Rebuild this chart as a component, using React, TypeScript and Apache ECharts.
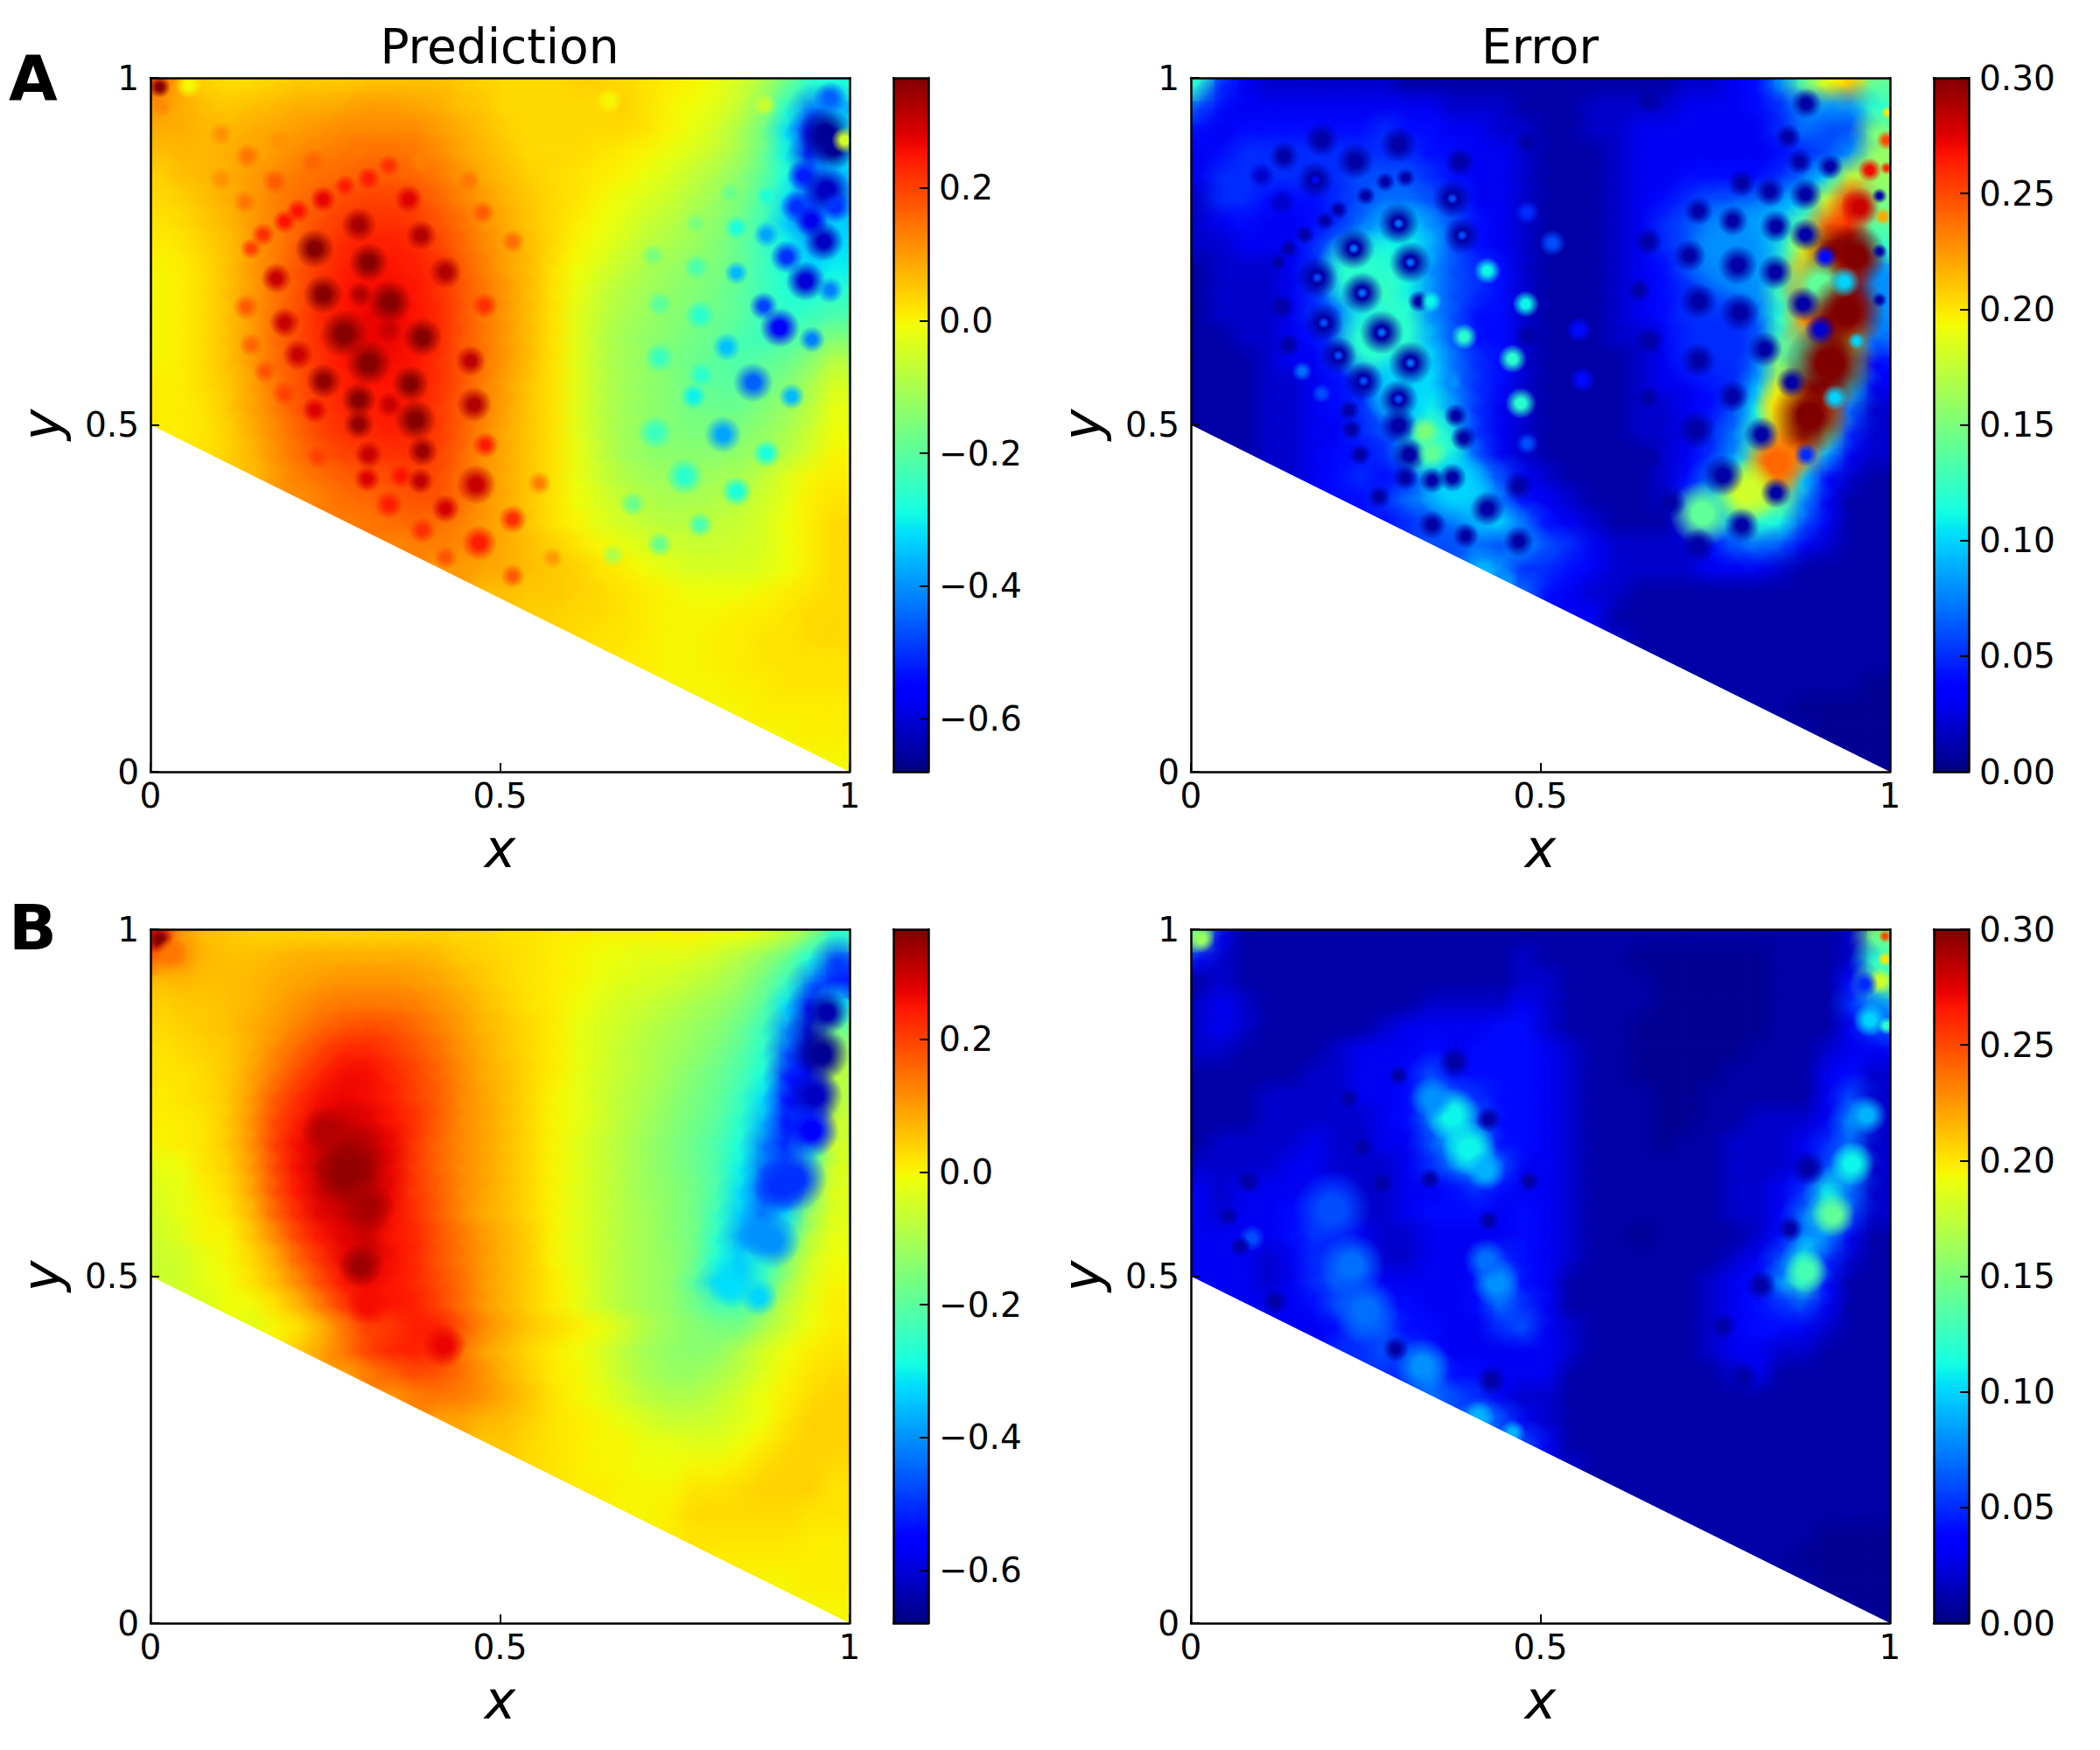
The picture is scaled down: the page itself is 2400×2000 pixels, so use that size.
import React, { useEffect, useRef } from "react";
import * as echarts from "echarts";

const predictionA = [
[15,8,4,3,3,4,5,5,5,6,6,6,6,5,4,3,3,3,4,4,3,2,1,0,-2,-5,-10,-18,-26,-28],
[10,8,6,5,6,7,8,8,9,10,10,9,8,6,5,3,3,3,3,3,4,2,0,-1,-3,-7,-14,-26,-42,-38],
[8,8,7,7,8,9,10,11,12,12,12,12,10,8,6,4,3,3,3,3,3,2,0,-2,-5,-10,-17,-32,-56,-30],
[6,7,7,8,9,10,12,13,14,15,15,14,12,9,7,5,3,3,3,2,1,0,-2,-4,-7,-11,-18,-30,-58,-32],
[4,6,7,8,10,12,14,15,16,17,17,16,14,11,8,6,4,3,2,1,0,-2,-4,-7,-10,-14,-20,-28,-42,-36],
[3,4,6,8,10,13,15,17,19,20,20,19,16,13,10,7,5,3,2,0,-2,-4,-6,-9,-12,-16,-22,-32,-48,-38],
[2,3,5,7,10,13,16,19,21,22,22,21,18,15,11,8,5,3,1,-1,-3,-6,-8,-11,-14,-18,-24,-34,-46,-34],
[1,2,4,6,10,13,17,20,23,24,24,23,20,16,12,9,6,3,0,-2,-5,-8,-10,-12,-15,-19,-24,-30,-36,-32],
[0,1,3,6,10,14,18,21,24,25,25,24,22,17,13,9,6,2,-1,-4,-7,-10,-12,-14,-16,-19,-24,-28,-34,-30],
[0,1,3,6,10,14,18,22,25,26,26,25,22,18,14,10,6,2,-2,-6,-9,-11,-13,-15,-17,-20,-24,-27,-28,-26],
[0,1,3,6,10,15,19,23,25,27,27,25,23,18,14,10,6,2,-3,-7,-10,-12,-14,-16,-18,-20,-24,-26,-24,-22],
[0,1,3,6,10,15,19,23,25,27,27,25,23,18,14,10,6,2,-3,-8,-11,-13,-15,-17,-19,-22,-24,-22,-20,-15],
[0,1,3,6,10,15,19,22,25,26,26,25,22,18,14,10,6,2,-3,-8,-11,-13,-16,-18,-20,-22,-20,-18,-14,-8],
[1,1,3,5,9,14,18,22,24,25,25,24,22,18,13,9,5,2,-3,-8,-11,-13,-15,-18,-20,-20,-18,-15,-10,-4],
[1,1,2,5,9,13,18,21,23,24,25,24,21,17,13,9,5,2,-3,-8,-11,-13,-15,-17,-18,-18,-15,-12,-8,-2],
[1,1,2,4,8,12,16,20,22,23,24,23,21,17,12,8,5,2,-3,-8,-11,-13,-15,-16,-16,-15,-13,-10,-6,-1],
[2,4,7,11,15,18,20,21,22,22,20,16,11,8,5,2,-2,-7,-11,-13,-14,-14,-14,-13,-11,-8,-4,0],
[6,10,13,15,17,18,19,20,19,15,11,8,5,2,-2,-6,-9,-11,-12,-12,-11,-10,-7,-3,0,1],
[11,13,15,16,17,18,18,15,11,8,5,2,-1,-4,-7,-9,-10,-10,-9,-8,-5,-2,1,2],
[13,14,15,16,15,13,10,8,5,2,0,-3,-5,-7,-8,-8,-7,-6,-4,-1,1,3],
[12,13,13,12,10,8,6,4,2,0,-2,-4,-5,-6,-6,-5,-4,-1,1,3],
[10,10,9,8,6,5,4,2,1,-1,-3,-4,-4,-4,-3,-1,1,3],
[6,6,5,5,4,3,2,1,0,-1,-1,-1,0,1,2,3],
[4,4,3,3,2,1,0,0,0,1,1,2,3,3],
[3,2,2,1,0,0,1,1,2,2,3,3],
[1,1,0,0,1,1,2,2,2,2],
[0,0,0,1,1,2,2,2],
[0,0,1,1,1,1],
[0,0,1,1],
[0,0],
];

const errorA = [
[12,5,3,2,2,2,2,2,2,1,1,1,1,1,1,1,1,1,1,1,1,2,2,3,4,8,14,19,21,14],
[6,4,3,3,3,3,3,3,3,3,3,2,2,2,1,1,1,2,2,2,2,3,3,3,4,5,8,8,8,12],
[4,3,4,4,4,4,4,4,5,4,4,3,3,2,2,1,1,2,2,3,3,3,3,3,3,5,7,6,6,15],
[3,4,5,5,5,5,5,5,5,5,4,4,3,3,2,1,1,1,2,3,3,3,3,3,3,4,5,6,8,16],
[3,5,5,5,5,5,5,6,6,6,5,4,3,3,2,1,1,1,2,3,3,4,4,4,4,5,7,10,18,16],
[2,5,5,4,4,4,5,6,7,7,6,5,3,3,2,1,1,1,2,3,4,5,6,6,7,8,10,18,26,15],
[2,3,4,3,3,4,5,7,9,10,8,6,4,3,2,1,1,1,2,3,5,6,7,8,9,10,14,24,26,14],
[2,2,3,3,3,5,7,9,11,11,9,6,4,3,2,1,1,1,2,3,5,6,8,8,10,12,18,30,30,12],
[1,2,2,2,3,5,8,11,12,11,8,6,5,4,2,1,1,1,2,3,4,6,7,8,9,13,22,30,26,8],
[1,2,2,2,3,5,8,11,13,11,8,6,5,4,2,1,1,1,2,3,4,5,6,7,8,13,24,30,30,8],
[1,2,2,2,3,5,7,10,12,12,8,6,4,4,2,1,1,1,2,3,4,5,6,6,7,12,22,30,26,8],
[1,1,2,2,3,4,6,9,12,12,9,6,4,4,2,1,1,1,2,2,3,4,5,5,7,13,24,30,18,7],
[1,1,1,2,3,3,5,7,10,12,10,7,5,4,2,1,1,1,1,2,3,4,4,5,8,16,30,30,14,4],
[1,1,1,2,2,3,4,5,8,11,10,7,5,4,2,1,1,1,1,2,3,3,4,5,9,18,30,30,11,3],
[1,1,1,2,2,3,4,5,7,10,11,8,5,3,2,1,1,1,1,2,2,3,4,6,11,20,30,24,7,2],
[1,1,1,2,2,3,3,5,6,8,12,9,5,3,2,1,1,1,1,2,2,3,5,7,12,22,30,15,5,2],
[1,2,2,3,4,4,5,8,13,10,6,3,2,1,1,1,1,1,2,3,5,8,14,22,23,9,3,2],
[2,3,4,5,4,5,8,10,8,6,3,2,1,1,1,1,2,4,7,11,18,22,10,4,2,1],
[4,4,5,7,8,8,10,7,4,3,2,1,1,1,2,5,9,14,17,15,8,3,1,1],
[4,5,6,7,9,10,7,4,3,2,1,1,1,3,7,10,12,11,6,3,1,1],
[6,6,7,6,8,6,5,3,2,2,2,2,4,6,7,6,3,2,1,1],
[9,8,5,5,4,3,2,2,2,2,3,3,3,2,1,1,1,1],
[7,4,3,2,2,1,1,1,1,1,1,1,1,1,1,1],
[3,3,1,1,1,1,1,1,1,1,1,1,1,1],
[2,1,1,1,1,1,1,1,1,1,1,1],
[1,1,1,1,1,1,1,1,1,1],
[1,1,1,1,1,1,1,.5],
[1,1,.5,.5,.5,.5],
[1,.5,.5,.5],
[.5,.5],
];

const predictionB = [
[25,10,6,5,4,4,4,4,4,4,4,4,4,3,3,2,2,1,1,0,0,0,0,0,-1,-2,-4,-8,-14,-26],
[15,12,7,6,6,7,8,8,8,8,8,8,7,5,4,3,2,1,0,-1,-2,-3,-3,-4,-6,-9,-13,-18,-28,-48],
[6,7,6,6,7,8,9,10,11,11,11,10,9,7,5,3,2,1,0,-2,-3,-4,-5,-7,-9,-12,-17,-24,-42,-52],
[4,5,5,6,7,9,11,13,14,14,14,13,11,9,6,4,2,1,-1,-3,-5,-6,-8,-10,-12,-15,-20,-32,-58,-30],
[3,4,5,6,8,10,13,16,18,19,18,16,13,10,7,5,3,1,-2,-4,-6,-8,-10,-12,-14,-18,-24,-40,-62,-18],
[2,3,4,5,8,12,16,20,23,23,21,18,15,11,8,5,3,1,-2,-4,-7,-9,-11,-13,-16,-20,-26,-46,-62,-10],
[2,2,3,5,9,14,19,23,26,26,23,20,16,12,8,6,3,1,-2,-5,-7,-9,-12,-15,-18,-22,-28,-52,-54,-8],
[1,2,3,5,10,17,22,26,27,26,24,20,17,12,9,6,3,0,-2,-5,-8,-10,-13,-16,-19,-24,-32,-54,-50,-8],
[1,1,2,5,11,19,24,28,30,28,25,22,17,12,9,6,3,0,-2,-5,-8,-11,-14,-17,-20,-26,-36,-54,-40,-6],
[0,1,2,5,11,20,26,30,33,32,27,21,16,12,9,6,3,0,-3,-6,-9,-12,-15,-18,-22,-28,-42,-52,-30,-5],
[-2,-1,2,4,10,19,26,31,33,34,27,21,16,12,9,6,3,0,-3,-6,-9,-12,-15,-18,-22,-30,-44,-46,-22,-4],
[-3,-2,1,3,9,18,25,30,32,31,27,21,17,12,9,6,3,0,-3,-6,-9,-12,-14,-17,-22,-32,-46,-40,-16,-3],
[-4,-2,0,2,7,16,23,28,30,30,26,22,17,12,8,6,3,0,-3,-6,-9,-11,-14,-17,-24,-34,-44,-34,-12,-3],
[-5,-3,0,0,5,12,20,25,28,30,25,23,18,14,10,7,4,0,-3,-6,-9,-11,-14,-17,-26,-38,-40,-24,-8,-2],
[-6,-5,-2,0,3,8,16,22,27,31,26,23,18,14,10,7,4,0,-3,-6,-9,-11,-13,-17,-28,-34,-26,-15,-5,-1],
[-6,-5,-2,-1,2,6,12,19,25,27,25,23,19,15,10,7,4,1,-2,-6,-9,-11,-13,-20,-33,-34,-24,-11,-3,0],
[-4,-1,-1,2,7,14,21,24,25,24,20,15,10,7,4,1,-2,-6,-9,-11,-13,-17,-22,-22,-14,-7,-2,1],
[-3,0,2,7,14,20,21,24,24,18,12,8,5,3,1,-1,-5,-9,-12,-14,-16,-16,-10,-5,-1,1],
[5,9,14,20,23,24,22,14,9,6,3,1,-1,-4,-8,-11,-13,-14,-13,-9,-4,-1,1,2],
[9,13,16,19,18,15,11,7,4,1,0,-3,-7,-10,-12,-12,-10,-7,-3,0,2,3],
[10,13,14,13,11,8,5,2,0,-2,-5,-8,-9,-9,-7,-4,-1,1,3,4],
[9,9,7,6,4,2,1,0,-2,-4,-6,-6,-5,-3,-1,2,4,4],
[5,5,3,2,1,0,0,-2,-2,-3,-3,-1,1,3,4,4],
[3,2,1,0,0,-1,-1,0,0,1,3,4,4,3],
[1,1,0,0,0,2,2,3,4,4,4,2],
[0,0,1,3,3,3,3,3,2,2],
[1,2,2,2,2,2,1,1],
[1,1,1,1,1,1],
[0,0,1,1],
[0,0],
];

const errorB = [
[14,3,1,1,1,1,1,1,1,1,1,1,1,1,1,1,1,1,1,1,1,1,1,1,1,1,1,1,2,15],
[4,2,1,1,1,1,1,1,1,1,1,1,1,1,2,1,1,1,1,.5,.5,.5,.5,.5,.5,1,1,1,2,12],
[1,2,1,1,1,1,1,1,1,1,1,1,1,1,2,2,1,1,1,1,.5,.5,.5,.5,.5,1,1,1,4,14],
[2,3,2,1,1,1,1,1,1,1,2,2,2,2,3,2,1,1,1,1,.5,.5,.5,.5,.5,1,1,1,5,8],
[2,3,2,1,1,1,1,1,2,3,3,3,3,4,4,2,1,1,1,.5,.5,.5,.5,.5,.5,1,1,1,3,6],
[2,2,1,1,1,1,2,3,3,3,4,3,4,4,4,3,2,1,1,.5,.5,.5,.5,.5,1,1,1,2,3,3],
[1,1,1,1,1,2,2,3,3,4,6,4,4,4,4,3,2,1,1,.5,.5,.5,.5,1,1,1,1,3,4,2],
[1,1,1,2,2,2,2,3,3,4,7,6,5,4,4,3,2,1,1,1,.5,.5,1,1,1,1,1,3,6,2],
[1,1,1,2,2,2,2,2,3,4,7,9,6,4,4,3,2,1,1,1,.5,.5,1,1,2,2,2,3,8,2],
[1,2,2,2,2,3,2,2,3,3,6,9,8,4,4,3,2,1,1,1,.5,1,1,2,2,2,3,5,7,2],
[2,2,2,2,3,3,2,2,2,3,5,7,9,6,3,3,2,1,1,1,1,1,1,2,2,2,3,6,9,2],
[3,2,3,3,3,3,3,2,2,3,3,4,5,4,3,3,2,1,1,1,1,1,1,2,2,3,5,11,7,2],
[3,2,3,3,4,4,3,2,2,3,4,4,4,3,4,3,2,1,1,1,1,1,1,2,2,3,7,12,6,2],
[3,3,3,3,4,5,4,3,2,2,3,3,3,3,4,3,2,1,1,.5,1,1,1,1,2,4,8,8,3,1],
[3,3,3,2,3,5,5,3,2,2,3,3,3,5,4,3,2,1,1,1,1,1,1,2,3,6,11,5,2,1],
[3,3,3,2,3,5,6,4,3,3,3,3,4,7,4,3,1,1,1,1,1,1,2,3,4,8,12,4,1,1],
[3,3,3,4,6,5,4,4,3,3,4,7,5,3,1,1,1,1,1,1,2,3,4,5,6,3,1,1],
[3,3,4,6,6,4,4,3,3,5,6,3,2,1,1,1,1,1,2,3,4,4,3,2,1,1],
[5,5,6,5,4,3,3,3,3,3,2,1,1,1,1,1,2,3,3,2,2,1,1,1],
[5,5,7,4,4,3,3,3,1,1,1,1,1,1,1,2,3,1,1,1,1,1],
[7,6,5,3,2,2,1,1,1,1,1,1,1,1,1,1,1,1,1,1],
[9,6,3,2,1,1,1,1,1,1,1,1,1,1,1,1,1,1],
[6,3,1,1,1,1,1,1,1,1,1,1,1,1,1,1],
[2,1,1,1,1,1,1,1,1,1,1,1,1,1],
[1,1,1,1,1,1,1,1,1,1,1,1],
[1,1,1,1,1,1,1,1,1,1],
[1,1,1,1,1,.5,.5,.5],
[1,1,.5,.5,.5,.5],
[1,.5,.5,.5],
[.5,.5],
];

// Local spots: x, y, value in hundredths, radius in axis units.
const predictionASpots = [
[.235,.754,36,.018],[.298,.788,33,.016],[.312,.734,36,.018],[.387,.773,32,.014],[.369,.825,28,.013],[.422,.72,32,.015],
[.18,.711,30,.014],[.247,.688,36,.018],[.3,.688,32,.012],[.342,.677,36,.02],[.192,.647,30,.014],[.277,.631,36,.022],
[.389,.626,36,.018],[.341,.637,30,.012],[.211,.601,30,.014],[.312,.589,36,.021],[.458,.592,31,.014],[.248,.563,35,.016],
[.372,.559,36,.017],[.298,.536,36,.016],[.342,.529,30,.012],[.379,.507,36,.019],[.298,.501,35,.014],[.235,.521,28,.012],
[.463,.529,32,.016],[.479,.471,24,.012],[.389,.462,34,.014],[.312,.457,30,.013],[.31,.422,28,.012],[.358,.426,25,.011],
[.386,.419,31,.012],[.466,.414,30,.018],[.422,.379,29,.013],[.341,.385,24,.013],[.518,.364,22,.013],[.389,.348,22,.012],
[.47,.33,24,.016],[.192,.545,20,.012],[.164,.577,18,.011],[.144,.615,16,.011],[.137,.67,17,.012],[.478,.672,22,.012],
[.24,.454,20,.011],[.422,.309,18,.011],[.518,.282,17,.011],[.556,.416,13,.011],[.575,.308,10,.01],[.475,.806,17,.011],
[.518,.764,15,.011],[.455,.852,14,.011],[.341,.873,22,.01],[.312,.855,24,.011],[.278,.844,24,.01],[.247,.825,27,.012],
[.211,.808,25,.011],[.192,.793,25,.011],[.161,.774,22,.011],[.144,.754,20,.01],[.178,.85,17,.012],[.233,.879,16,.012],
[.139,.887,14,.012],[.298,.901,14,.012],[.387,.88,13,.011],[.185,.909,11,.011],[.101,.919,11,.011],[.135,.821,14,.011],
[.101,.854,11,.011],[.013,.987,36,.01],[.055,.989,0,.012],[.015,.959,12,.01],[.656,.967,0,.012],
[.965,.919,-66,.025],[.977,.899,-66,.02],[.972,.971,-45,.015],[.934,.859,-52,.015],[.967,.838,-62,.022],[.924,.814,-50,.015],
[.945,.794,-58,.015],[.98,.814,-50,.014],[.963,.764,-62,.018],[.91,.742,-50,.015],[.937,.707,-60,.018],[.972,.694,-42,.012],
[.881,.774,-38,.012],[.838,.719,-36,.011],[.877,.671,-48,.013],[.9,.64,-56,.018],[.946,.623,-42,.012],[.824,.612,-35,.013],
[.862,.561,-45,.018],[.917,.541,-36,.012],[.788,.572,-26,.012],[.777,.541,-30,.012],[.819,.486,-38,.017],[.881,.459,-28,.013],
[.838,.404,-28,.014],[.764,.426,-26,.017],[.728,.597,-24,.014],[.722,.489,-24,.016],[.786,.658,-26,.014],[.728,.674,-20,.012],
[.781,.727,-22,.012],[.719,.744,-16,.011],[.838,.784,-28,.011],[.881,.83,-28,.009],[.829,.834,-18,.01],[.78,.79,-16,.01],
[.69,.386,-18,.012],[.786,.356,-22,.012],[.728,.328,-18,.012],[.661,.312,-9,.011],[.878,.961,-6,.011],[.993,.91,-5,.012],
];

const errorASpots = [
[.78,.75,8,.05],[.75,.62,5,.05],[.24,.72,12,.04],[.26,.62,12,.04],[.3,.55,10,.035],[.345,.47,12,.035],[.38,.41,10,.035],
[.837,.445,24,.03],[.794,.404,18,.03],[.732,.372,14,.03],[.852,.525,20,.03],[.88,.6,13,.03],[.9,.7,14,.03],
[.885,.513,30,.035],[.914,.589,30,.04],[.938,.662,30,.035],[.952,.742,30,.028],[.957,.814,28,.018],
[.88,.963,1,.014],[.854,.915,1,.012],[.871,.879,1,.012],[.914,.872,1,.012],[.788,.848,1,.013],[.828,.836,1,.014],[.879,.832,1,.015],
[.726,.808,1,.013],[.775,.794,1,.014],[.837,.786,1,.015],[.879,.774,1,.015],[.654,.764,1,.013],[.713,.744,1,.015],[.782,.73,1,.018],
[.836,.72,1,.016],[.641,.694,1,.011],[.726,.678,1,.017],[.785,.662,1,.018],[.876,.674,1,.016],[.656,.621,1,.013],[.726,.593,1,.016],
[.821,.609,1,.016],[.859,.561,1,.014],[.654,.539,1,.011],[.775,.541,1,.015],[.723,.493,1,.018],[.816,.486,1,.016],[.654,.453,1,.012],
[.761,.427,1,.019],[.685,.388,1,.015],[.837,.402,1,.014],[.788,.355,1,.016],[.726,.326,1,.016],[.9,.637,2,.014],[.88,.457,5,.011],
[.907,.742,4,.011],[.935,.706,10,.014],[.921,.539,10,.012],[.952,.621,10,.008],[.971,.867,27,.011],
[.233,.754,1,.019],[.297,.79,1,.019],[.314,.734,1,.019],[.181,.712,1,.019],[.245,.69,1,.019],[.19,.647,1,.018],[.273,.633,1,.02],
[.211,.6,1,.017],[.314,.589,1,.02],[.247,.563,1,.018],[.297,.537,1,.018],[.297,.499,1,.017],[.312,.457,1,.016],[.374,.826,1,.018],
[.388,.773,1,.017],[.178,.853,1,.017],[.235,.88,1,.017],[.297,.904,1,.017],[.187,.911,1,.016],[.133,.887,1,.014],[.101,.859,2,.012],
[.13,.821,2,.013],[.385,.879,1,.014],[.326,.678,1,.01],[.374,.424,1,.013],[.424,.379,1,.016],[.469,.412,1,.014],[.469,.332,1,.014],
[.345,.356,1,.013],[.393,.34,1,.012],[.307,.424,1,.012],[.269,.396,1,.011],[.345,.42,1,.012],[.13,.67,1,.012],[.14,.615,1,.011],
[.481,.907,1,.011],[.656,.967,1,.012],[.481,.629,1,.011],[.39,.481,1,.012],[.379,.513,1,.011],[.211,.81,1,.009],[.192,.794,1,.009],
[.163,.774,1,.009],[.14,.754,1,.009],[.125,.734,1,.008],[.25,.83,1,.009],[.278,.85,1,.009],[.307,.856,1,.009],[.226,.521,1,.01],
[.23,.493,1,.01],[.242,.457,1,.01],[.985,.83,1,.007],[.985,.75,1,.007],[.985,.68,1,.007],
[.233,.754,7,.005],[.297,.79,7,.005],[.314,.734,7,.005],[.181,.712,6,.005],[.245,.69,7,.005],[.19,.647,6,.005],[.273,.633,7,.005],
[.211,.6,6,.005],[.314,.589,7,.005],[.247,.563,6,.005],[.297,.537,6,.005],[.374,.826,6,.005],[.388,.773,6,.005],[.178,.853,4,.005],
[.424,.722,11,.012],[.479,.674,11,.012],[.343,.678,11,.01],[.391,.627,12,.012],[.46,.595,12,.013],[.472,.531,12,.014],[.517,.762,6,.012],
[.374,.561,8,.009],[.159,.577,7,.009],[.187,.545,6,.009],[.481,.806,5,.011],[.481,.473,6,.01],[.555,.637,4,.012],[.56,.565,4,.012],
[.335,.49,15,.014],[.345,.46,14,.014],[.995,.91,25,.009],[.99,.8,22,.008],[.997,.95,20,.006],[.995,.87,26,.006],
[.42,.29,9,.012],[.45,.275,8,.012],
];

const predictionBSpots = [
[.013,.985,36,.012],[.03,.965,14,.015],[.3,.515,34,.02],[.25,.71,32,.022],[.28,.65,35,.03],[.31,.6,33,.025],[.42,.4,27,.02],[.31,.46,26,.02],
[.968,.88,-64,.02],[.96,.82,-66,.025],[.95,.76,-62,.025],[.945,.71,-56,.025],[.92,.64,-50,.03],[.9,.63,-50,.025],[.89,.55,-40,.025],[.87,.56,-40,.02],[.83,.485,-32,.02],[.87,.47,-33,.018],
];

const errorBSpots = [
[.88,.507,13,.02],[.919,.588,14,.02],[.946,.662,11,.02],[.967,.732,9,.018],[.971,.869,10,.015],[.986,.925,18,.012],[.015,.986,16,.012],
[.993,.99,25,.006],[.993,.957,20,.007],[.995,.861,12,.008],[.964,.921,5,.012],[.374,.732,11,.025],[.398,.684,11,.025],[.422,.652,9,.018],
[.345,.756,8,.02],[.436,.491,8,.022],[.422,.523,7,.02],[.23,.515,7,.03],[.25,.451,7,.03],[.202,.596,6,.035],[.331,.371,8,.025],[.412,.298,9,.014],
[.46,.274,9,.012],[.087,.555,6,.012],
[.377,.809,1,.015],[.426,.726,1,.012],[.297,.789,1,.01],[.226,.756,1,.01],[.245,.686,1,.01],[.273,.634,1,.01],[.342,.64,1,.01],[.426,.58,1,.01],
[.484,.637,1,.01],[.883,.656,1,.016],[.857,.568,1,.012],[.816,.487,1,.014],[.761,.428,1,.012],[.79,.355,1,.014],[.726,.322,1,.014],[.071,.543,1,.01],
[.054,.586,1,.009],[.43,.35,1,.014],[.809,.179,1,.014],[.828,.246,1,.013],[.12,.463,1,.012],[.293,.395,1,.012],[.082,.636,1,.012],
];

const maskCorners = [[0, 0.5], [1, 0], [0, 0]];
const predictionRange = [-0.68, 0.366];
const errorRange = [0, 0.3];
const predictionTicks = [-0.6, -0.4, -0.2, 0, 0.2];
const errorTicks = [0, 0.05, 0.1, 0.15, 0.2, 0.25, 0.3];
const unitTicks = [0, 0.5, 1];
const panelTitles = ["Prediction", "Error"];
const rowLetters = ["A", "B"];

const FONT = "DejaVu Sans";
const CELL = 1 / 30;

function jet(t: number) {
  const piece = (pts: number[][]) => {
    for (let i = 1; i < pts.length; i++) {
      if (t <= pts[i][0]) {
        const a = pts[i - 1], b = pts[i];
        return a[1] + ((b[1] - a[1]) * (t - a[0])) / (b[0] - a[0]);
      }
    }
    return pts[pts.length - 1][1];
  };
  const r = piece([[0, 0], [0.35, 0], [0.66, 1], [0.89, 1], [1, 0.5]]);
  const g = piece([[0, 0], [0.125, 0], [0.375, 1], [0.64, 1], [0.91, 0], [1, 0]]);
  const b = piece([[0, 0.5], [0.11, 1], [0.34, 1], [0.65, 0], [1, 0]]);
  return `rgb(${Math.round(r * 255)},${Math.round(g * 255)},${Math.round(b * 255)})`;
}
const jetColors = Array.from({ length: 65 }, (_, i) => jet(i / 64));

function cellData(rows: number[][]) {
  const out: number[][] = [];
  rows.forEach((row, i) => {
    const offset = 30 - row.length;
    row.forEach((v, j) => out.push([(offset + j + 0.5) * CELL, 1 - (i + 0.5) * CELL, v / 100]));
  });
  return out;
}

const renderCell = (_: any, api: any) => {
  const x = api.value(0), y = api.value(1);
  const a = api.coord([x - CELL / 2, y + CELL / 2]);
  const b = api.coord([x + CELL / 2, y - CELL / 2]);
  return {
    type: "rect",
    shape: { x: a[0], y: a[1], width: b[0] - a[0] + 0.6, height: b[1] - a[1] + 0.6 },
    style: { fill: api.visual("color") },
  };
};

function softCircle(api: any, radiusPx: number, plateau: number) {
  const c = api.coord([api.value(0), api.value(1)]);
  const color = api.visual("color");
  return {
    type: "circle",
    shape: { cx: c[0], cy: c[1], r: radiusPx },
    style: {
      fill: new echarts.graphic.RadialGradient(0.5, 0.5, 0.5, [
        { offset: 0, color },
        { offset: plateau, color },
        { offset: 1, color: echarts.color.modifyAlpha(color, 0) },
      ]),
    },
  };
}
const renderBlob = (_: any, api: any) => softCircle(api, api.size([CELL, 0])[0] * 1.3, 0.1);
const renderSpot = (_: any, api: any) => softCircle(api, api.size([api.value(3), 0])[0] * 1.6, 0.3);
const renderMask = (_: any, api: any) => ({
  type: "polygon",
  shape: { points: maskCorners.map((p) => api.coord(p)) },
  style: { fill: "#fff" },
});

const textStyle = { fontFamily: FONT, color: "#000" };
const lineStyle = { color: "#000", width: 2.5 };

function frameAxes(gridIndex: number, range: number[], main: any, mainY: any) {
  const x0 = {
    type: "value", gridIndex, min: 0, max: 1, z: 10, silent: true,
    axisLine: { show: true, onZero: false, lineStyle },
    splitLine: { show: false },
  };
  const y0 = { ...x0, min: range[0], max: range[1] };
  const bare = { axisTick: { show: false }, axisLabel: { show: false } };
  return {
    x: [{ ...x0, position: "bottom", ...main }, { ...x0, position: "top", ...bare }],
    y: [{ ...y0, position: "left", ...mainY }, { ...y0, position: "right", ...bare }],
  };
}

function buildOption() {
  const panels = [
    { rows: predictionA, spots: predictionASpots, left: 172, top: 89, range: predictionRange, bar: 1021, ticks: predictionTicks, digits: 1 },
    { rows: errorA, spots: errorASpots, left: 1361, top: 89, range: errorRange, bar: 2210, ticks: errorTicks, digits: 2 },
    { rows: predictionB, spots: predictionBSpots, left: 172, top: 1062, range: predictionRange, bar: 1021, ticks: predictionTicks, digits: 1 },
    { rows: errorB, spots: errorBSpots, left: 1361, top: 1062, range: errorRange, bar: 2210, ticks: errorTicks, digits: 2 },
  ];
  const grid: any[] = [], xAxis: any[] = [], yAxis: any[] = [], series: any[] = [], visualMap: any[] = [];
  const unitLabel = {
    ...textStyle, fontSize: 39, showMinLabel: true, showMaxLabel: true,
    customValues: unitTicks, formatter: (v: number) => String(v),
  };
  const unitTick = { show: true, inside: true, length: 10, lineStyle: { color: "#000", width: 2 }, customValues: unitTicks };
  const axisName = { fontFamily: FONT, fontStyle: "italic", fontSize: 60, color: "#000" };

  panels.forEach((p, k) => {
    const gi = k * 2;
    grid.push({ left: p.left, top: p.top, width: 799, height: 793 });
    grid.push({ left: p.bar, top: p.top, width: 40, height: 793 });
    const main = frameAxes(gi, [0, 1],
      { axisTick: unitTick, axisLabel: { ...unitLabel, margin: 8 }, name: "x", nameLocation: "middle", nameGap: 58, nameTextStyle: axisName },
      { axisTick: unitTick, axisLabel: { ...unitLabel, margin: 13 }, name: "y", nameLocation: "middle", nameGap: 94, nameRotate: 90, nameTextStyle: axisName });
    const barAxes = frameAxes(gi + 1, p.range,
      { axisTick: { show: false }, axisLabel: { show: false } },
      { axisTick: { show: false }, axisLabel: { show: false } });
    barAxes.y[1] = {
      ...barAxes.y[1],
      axisTick: { show: true, inside: true, length: 10, lineStyle: { color: "#000", width: 2 }, customValues: p.ticks },
      axisLabel: {
        show: true, ...textStyle, fontSize: 39, margin: 12, customValues: p.ticks,
        formatter: (v: number) => v.toFixed(p.digits).replace("-", "\u2212"),
      },
    };
    const xBase = xAxis.length, yBase = yAxis.length;
    xAxis.push(...main.x, ...barAxes.x);
    yAxis.push(...main.y, ...barAxes.y);

    const base = {
      type: "custom", xAxisIndex: xBase, yAxisIndex: yBase, silent: true, clip: true,
      encode: { x: 0, y: 1 }, animation: false,
    };
    const first = series.length;
    const cells = cellData(p.rows);
    series.push({ ...base, renderItem: renderCell, data: cells });
    series.push({ ...base, renderItem: renderBlob, data: cells });
    series.push({ ...base, renderItem: renderSpot, data: p.spots.map((s) => [s[0], s[1], s[2] / 100, s[3]]) });
    series.push({ ...base, renderItem: renderMask, data: [[0, 0]] });
    visualMap.push({
      type: "continuous", seriesIndex: [first, first + 1, first + 2], dimension: 2,
      min: p.range[0], max: p.range[1], calculable: false, hoverLink: false, realtime: false,
      left: p.bar, top: p.top, itemWidth: 40, itemHeight: 793, padding: 0, text: null,
      showLabel: false, inRange: { color: jetColors }, z: 4,
    });
  });

  const graphic: any[] = [
    { type: "text", x: 571, y: 53, style: { text: panelTitles[0], font: `55px '${FONT}'`, fill: "#000", align: "center", verticalAlign: "middle" } },
    { type: "text", x: 1760, y: 53, style: { text: panelTitles[1], font: `55px '${FONT}'`, fill: "#000", align: "center", verticalAlign: "middle" } },
    { type: "text", x: 10, y: 89, style: { text: rowLetters[0], font: `bold 72px '${FONT}'`, fill: "#000", align: "left", verticalAlign: "middle" } },
    { type: "text", x: 10, y: 1060, style: { text: rowLetters[1], font: `bold 72px '${FONT}'`, fill: "#000", align: "left", verticalAlign: "middle" } },
  ];
  return { animation: false, backgroundColor: "#fff", grid, xAxis, yAxis, series, visualMap, graphic };
}

export default function App() {
  const ref = useRef<HTMLDivElement>(null);
  useEffect(() => {
    document.body.style.margin = "0";
    const chart = echarts.init(ref.current!, undefined, { renderer: "svg" });
    chart.setOption(buildOption() as any);
    return () => chart.dispose();
  }, []);
  return <div ref={ref} style={{ width: 2400, height: 2000 }} />;
}
